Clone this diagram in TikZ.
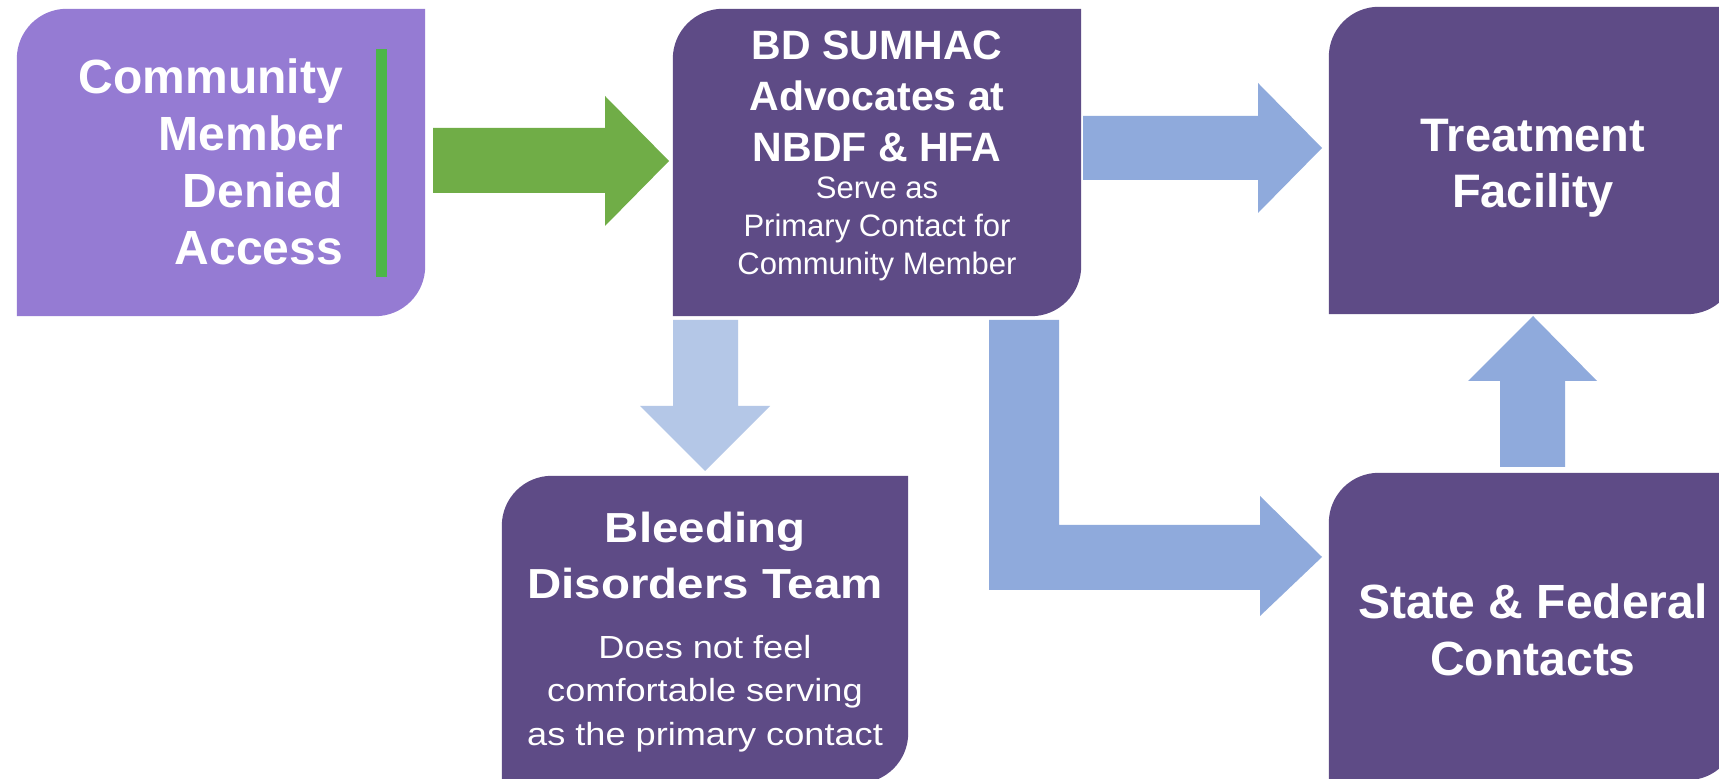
\documentclass[tikz,border=0pt]{standalone}
\usepackage{fontspec}
\setmainfont{Liberation Sans}
\newfontfamily\widefont[FakeStretch=1.13]{Liberation Sans}
\usetikzlibrary{fit}
\definecolor{lav}{RGB}{149,123,211}
\definecolor{dpurp}{RGB}{94,75,134}
\definecolor{grnarrow}{RGB}{112,173,71}
\definecolor{grnbar}{RGB}{76,182,72}
\definecolor{bluearrow}{RGB}{143,170,220}
\definecolor{lightblue}{RGB}{180,199,231}
\tikzset{
  txt/.style={text=white, inner sep=0pt, align=center},
  boxframe/.style={inner sep=0pt}
}
\newcommand\roundbox[6]{%
  \node[boxframe, fit={(#3,#4) (#5,#6)}] (#1) {};
  \fill[#2] (#1.south west) -- ([yshift=-50pt]#1.north west)
    arc[start angle=180,end angle=90,radius=50pt] -- (#1.north east)
    -- ([yshift=50pt]#1.south east)
    arc[start angle=0,end angle=-90,radius=50pt] -- cycle;}
\begin{document}
\begin{tikzpicture}[x=1pt,y=1pt]
\useasboundingbox (0,0) rectangle (1719,779);
\clip (0,0) rectangle (1719,779);
\fill[white] (0,0) rectangle (1719,779);

% boxes
\roundbox{cm}{lav}{17}{463}{425}{770}
\roundbox{bd}{dpurp}{673}{463}{1081}{770}
\roundbox{tf}{dpurp}{1329}{465}{1737}{772}
\roundbox{bt}{dpurp}{502}{-4}{908}{303}
\roundbox{sf}{dpurp}{1329}{-1}{1737}{306}

% green bar
\fill[grnbar] (376,502) rectangle (387,730);

% texts
\node[txt, align=right, anchor=east, font=\fontsize{48}{57}\selectfont\bfseries] (cmtext) at (343,617)
  {Community\\Member\\Denied\\Access};
\node[txt, font=\fontsize{41}{51}\selectfont\bfseries] (bdtitle) at (877,682.5)
  {BD SUMHAC\\Advocates at\\NBDF \& HFA};
\node[txt, font=\fontsize{31}{38}\selectfont] (bdsub) at (877,550)
  {Serve as\\Primary Contact for\\Community Member};
\node[txt, font=\fontsize{47}{56}\selectfont\bfseries] (tftext) at (1533,611)
  {Treatment\\Facility};
\node[txt, font=\fontsize{48}{57}\selectfont\bfseries] (sftext) at (1533,149)
  {State \& Federal\\Contacts};
\node[txt, font=\widefont\fontsize{42}{56}\selectfont\bfseries] (bttitle) at (705,224)
  {Bleeding\\Disorders Team};
\node[txt, font=\widefont\fontsize{32}{43.5}\selectfont] (btsub) at (705,85.5)
  {Does not feel\\comfortable serving\\as the primary contact};

% arrows
% community -> BD (green)
\fill[grnarrow] (433,651) -- (605,651) -- (605,683) -- (669,618) -- (605,553) -- (605,586) -- (433,586) -- cycle;
% BD -> treatment
\fill[bluearrow] (1083,663) -- (1258,663) -- (1258,696) -- (1322,631) -- (1258,566) -- (1258,599) -- (1083,599) -- cycle;
% BD -> bleeding team (down)
\fill[lightblue] (673,459) -- (738,459) -- (738,373) -- (770,373) -- (705,308) -- (640,373) -- (673,373) -- cycle;
% BD -> state & federal (L-shaped)
\fill[bluearrow] (989,459) -- (1059,459) -- (1059,254) -- (1260,254) -- (1260,283) -- (1322,222) -- (1260,163) -- (1260,189) -- (989,189) -- cycle;
% state & federal -> treatment (up)
\fill[bluearrow] (1500,312) -- (1565,312) -- (1565,398) -- (1597,398) -- (1533,463) -- (1468,398) -- (1500,398) -- cycle;
\end{tikzpicture}
\end{document}
